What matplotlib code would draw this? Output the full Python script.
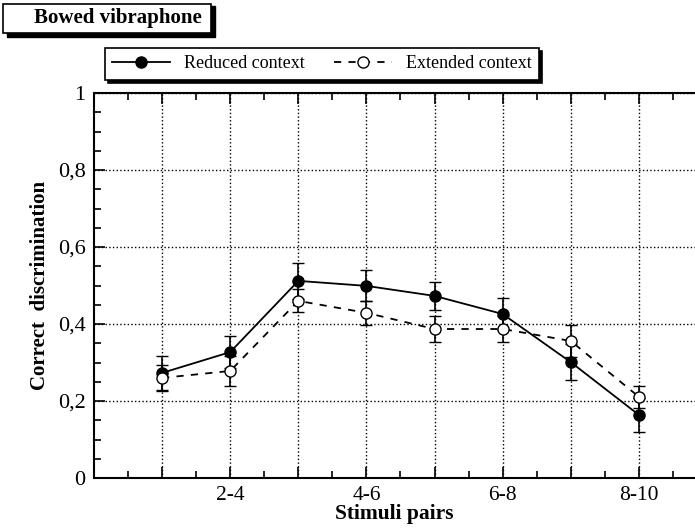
import matplotlib.pyplot as plt
from matplotlib.patches import Rectangle

plt.rcParams['font.family'] = ['Liberation Serif', 'DejaVu Serif']

# data
pairs = [1, 2, 3, 4, 5, 6, 7, 8]
tick_pos = [2, 4, 6, 8]
tick_labels = ['2-4', '4-6', '6-8', '8-10']
reduced = [0.273, 0.327, 0.512, 0.499, 0.473, 0.426, 0.301, 0.164]
reduced_err = [0.045, 0.042, 0.046, 0.040, 0.037, 0.042, 0.046, 0.044]
extended = [0.260, 0.278, 0.460, 0.429, 0.387, 0.387, 0.356, 0.211]
extended_err = [0.033, 0.038, 0.030, 0.032, 0.034, 0.034, 0.041, 0.028]

W, H = 695, 528
fig = plt.figure(figsize=(W / 100, H / 100), dpi=100)
ax = fig.add_axes([94 / W, 1 - 478 / H, (W - 94) / W, (478 - 93) / H])

r = ax.errorbar(pairs, reduced, yerr=reduced_err, color='black', ls='-', lw=1.3,
                marker='o', ms=8, mfc='black', capsize=4, elinewidth=1.2,
                zorder=3)
e = ax.errorbar(pairs, extended, yerr=extended_err, color='black', ls=(0, (4, 4)),
                lw=1.3, marker='o', ms=8, mfc='white', capsize=4, elinewidth=1.2,
                zorder=3)

ax.set_xlim(0, (W - 94) / 68.1)
ax.set_ylim(0, 1)
ax.set_xticks(pairs, minor=False)
ax.set_xticks([p + 0.5 for p in [0] + pairs], minor=True)
ax.set_xticklabels(['' if p not in tick_pos else tick_labels[tick_pos.index(p)]
                    for p in pairs], fontsize=15.5)
ax.set_yticks([0, 0.2, 0.4, 0.6, 0.8, 1])
ax.set_yticklabels(['0', '0,2', '0,4', '0,6', '0,8', '1'], fontsize=16)
ax.set_yticks([i * 0.05 for i in range(21)], minor=True)
ax.tick_params(which='both', direction='in', top=True, right=False, width=1.2)
ax.tick_params(which='major', length=8, pad=6)
ax.tick_params(which='minor', length=5)

ax.grid(True, which='major', ls=':', color='black', lw=1)
ax.spines['right'].set_visible(False)
for s in ['left', 'bottom', 'top']:
    ax.spines[s].set_linewidth(1.5)

ax.set_xlabel('Stimuli pairs', fontsize=15.5, fontweight='bold', labelpad=-1)
ax.set_ylabel('Correct  discrimination', fontsize=15, fontweight='bold', labelpad=6)

leg = ax.legend([r[0], e[0]], ['Reduced context', 'Extended context'],
                loc='center', bbox_to_anchor=(322 / W, 1 - 64 / H),
                bbox_transform=fig.transFigure, ncol=2, fontsize=13,
                handlelength=3.2, columnspacing=1.6, fancybox=False,
                edgecolor='black', framealpha=1,
                shadow={'color': 'black', 'alpha': 1})
leg.get_frame().set_linewidth(1.2)

# title box with shadow
fig.patches.append(Rectangle((7 / W, 1 - 37 / H), 208 / W, 31 / H,
                             transform=fig.transFigure, fc='black', ec='black'))
fig.patches.append(Rectangle((3 / W, 1 - 33 / H), 208 / W, 29 / H,
                             transform=fig.transFigure, fc='white', ec='black', lw=1.2))
fig.text(118 / W, 1 - 18 / H, 'Bowed vibraphone', fontsize=15, fontweight='bold',
         ha='center', va='center')

fig.savefig('out.png', dpi=100)
